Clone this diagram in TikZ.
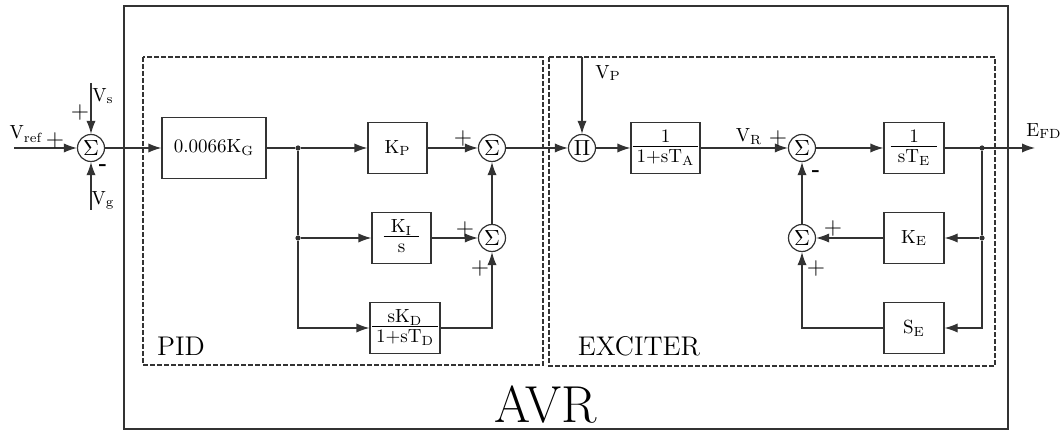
\documentclass[tikz,border=0pt]{standalone}
\usetikzlibrary{arrows.meta}
% stacked fraction inside a block
\newcommand{\blkfrac}[2]{\begin{tabular}{@{\kern2pt}c@{\kern2pt}}#1\\[-1.5pt]\hline #2\end{tabular}}
\begin{document}
\begin{tikzpicture}[>={Latex[length=6.5pt,width=4.6pt]}, x=0.5pt, y=-0.5pt,
    line width=0.6pt, color=black!80,
    every node/.style={text=black, font=\fontsize{9.5}{11}\selectfont},
    blk/.style={draw, rectangle, inner sep=0pt, minimum height=25.5pt},
    sum/.style={draw, circle, inner sep=0pt, minimum size=13.5pt, font=\fontsize{11}{11}\selectfont},
    dot/.style={circle, fill, inner sep=0pt, minimum size=2.6pt},
    pl/.style={font=\fontsize{12}{12}\selectfont},
    mi/.style={font=\fontsize{11}{11}\selectfont\bfseries},
    big/.style={font=\fontsize{#1}{#1}\selectfont},
    frame/.style={dash pattern=on 2.5pt off 1pt}]
    \useasboundingbox (0,0) rectangle (1060,432);
    % frames
    \draw (124,6) rectangle (1008,429);
    \draw[frame] (143,57) rectangle (543,365);
    \draw[frame] (549,57) rectangle (995,366);
    % blocks
    \coordinate (vref) at (14,148);
    \coordinate (vs) at (91,83);
    \coordinate (vg) at (91,210);
    \node[sum] (s1) at (91,148) {$\Sigma$};
    \node[blk, minimum width=52pt, minimum height=30.5pt] (gain) at (214,148) {0.0066K\textsubscript{G}};
    \node[dot] (b1) at (298,148) {};
    \node[dot] (b2) at (298,238) {};
    \node[blk, minimum width=29.5pt] (kp) at (397.5,148) {K\textsubscript{P}};
    \node[blk, minimum width=29.5pt] (ki) at (401.5,238) {\blkfrac{\,K\textsubscript{I}\,}{s}};
    \node[blk, minimum width=35pt] (kd) at (405,328) {\blkfrac{sK\textsubscript{D}}{1+sT\textsubscript{D}}};
    \node[sum] (s2) at (492,148) {$\Sigma$};
    \node[sum] (s3) at (492,238) {$\Sigma$};
    \coordinate (vp) at (582,57);
    \node[sum] (pi) at (582,148) {$\Pi$};
    \node[blk, minimum width=34.5pt] (ta) at (665.5,148) {\blkfrac{1}{1+sT\textsubscript{A}}};
    \node[sum] (s4) at (802,148) {$\Sigma$};
    \node[blk, minimum width=30pt] (te) at (914,148) {\blkfrac{\,1\,}{\,sT\textsubscript{E}\,}};
    \node[dot] (b3) at (982,148) {};
    \node[dot] (b4) at (982,238) {};
    \coordinate (efd) at (1035,148);
    \node[blk, minimum width=30pt] (ke) at (914,238) {K\textsubscript{E}};
    \node[blk, minimum width=30pt] (se) at (914,328) {S\textsubscript{E}};
    \node[sum] (s5) at (802,238) {$\Sigma$};
    % connections
    \draw[->] (vref) -- (s1);
    \draw[->] (vs) -- (s1);
    \draw[->] (vg) -- (s1);
    \draw[->] (s1) -- (gain);
    \draw (gain) -- (b1);
    \draw[->] (b1) -- (kp);
    \draw (b1) -- (b2);
    \draw[->] (b2) -- (ki);
    \draw[->] (b2) |- (kd);
    \draw[->] (kp) -- (s2);
    \draw[->] (ki) -- (s3);
    \draw[->] (kd) -| (s3);
    \draw[->] (s3) -- (s2);
    \draw[->] (s2) -- (pi);
    \draw[->] (vp) -- (pi);
    \draw[->] (pi) -- (ta);
    \draw[->] (ta) -- (s4);
    \draw[->] (s4) -- (te);
    \draw[->] (te) -- (efd);
    \draw (b3) -- (b4);
    \draw[->] (b4) -- (ke);
    \draw[->] (b4) |- (se);
    \draw[->] (ke) -- (s5);
    \draw[->] (se) -| (s5);
    \draw[->] (s5) -- (s4);
    % signs and labels
    \node (vreflbl) at (26,134) {V\textsubscript{ref}};
    \node[pl] (p1) at (55,141) {+};
    \node (vslbl) at (103,96) {V\textsubscript{s}};
    \node[pl] (p2) at (80,113) {+};
    \node[mi] (m1) at (103,168) {-};
    \node (vglbl) at (103,200) {V\textsubscript{g}};
    \node[pl] (p3) at (463,139) {+};
    \node[pl] (p4) at (465,230) {+};
    \node[pl] (p5) at (480,269) {+};
    \node (vplbl) at (608,73) {V\textsubscript{P}};
    \node (vrlbl) at (749,137) {V\textsubscript{R}};
    \node[pl] (p6) at (778,139) {+};
    \node[mi] (m2) at (816,174) {-};
    \node[pl] (p7) at (833,229) {+};
    \node[pl] (p8) at (816,269) {+};
    \node (efdlbl) at (1044,131) {E\textsubscript{FD}};
    \node[big=13.5] (pidlbl) at (181,346) {PID};
    \node[big=13.5] (exclbl) at (639,346) {EXCITER};
    \node[big=26] (avrlbl) at (546,405) {AVR};
\end{tikzpicture}
\end{document}
